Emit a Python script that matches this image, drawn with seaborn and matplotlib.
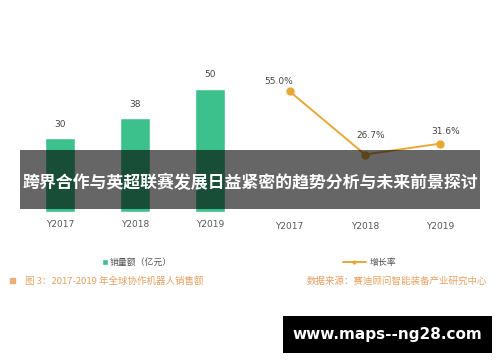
import pandas as pd
import seaborn as sns
import matplotlib.pyplot as plt
from matplotlib.patches import Rectangle

# Data
years = ["Y2017", "Y2018", "Y2019"]
sales = [30, 38, 50]
growth = [55.0, 26.7, 31.6]
growth_labels = ["55.0%", "26.7%", "31.6%"]

sales_name = "销量额（亿元）"
growth_name = "增长率"
title_text = "跨界合作与英超联赛发展日益紧密的趋势分析与未来前景探讨"
caption_left = "图 3：2017-2019 年全球协作机器人销售额"
caption_right = "数据来源：赛迪顾问智能装备产业研究中心"
watermark = "www.maps--ng28.com"

green = "#3cc08c"
orange = "#e8a838"
caption_color = "#e6a060"

sns.set_style("white")
plt.rcParams['font.family'] = ['Noto Sans CJK SC', 'DejaVu Sans']

df_sales = pd.DataFrame({"year": years, "value": sales})
df_growth = pd.DataFrame({"year": years, "value": growth})

fig = plt.figure(figsize=(5, 3.62), dpi=100)
fig.patch.set_facecolor("white")

# Left: bar chart of sales
ax1 = fig.add_axes([0.045, 0.4144, 0.45, 0.409])
sns.barplot(data=df_sales, x="year", y="value", color=green, width=0.4,
            saturation=1, ax=ax1, label=sales_name)
ax1.set_xlim(-0.5, 2.5)
ax1.set_ylim(0, 60)
for i, v in enumerate(sales):
    ax1.annotate(str(v), (i, v), xytext=(0, 10), textcoords="offset points",
                 ha="center", va="center", fontsize=6.5, color="#444444",
                 family="DejaVu Sans")

# Right: growth rate line
ax2 = fig.add_axes([0.504, 0.4088, 0.452, 0.431])
sns.lineplot(data=df_growth, x="year", y="value", color=orange, linewidth=1.4,
             marker="o", markersize=6, markeredgewidth=0, ax=ax2, label=growth_name)
ax2.set_xlim(-0.5, 2.5)
ax2.set_ylim(0, 70)
offsets = [(-8, 7), (4, 14), (4, 9)]
for i, (v, lab) in enumerate(zip(growth, growth_labels)):
    ax2.annotate(lab, (i, v), xytext=offsets[i], textcoords="offset points",
                 ha="center", va="center", fontsize=6.5, color="#444444",
                 family="DejaVu Sans")

for ax in (ax1, ax2):
    sns.despine(ax=ax, left=True, bottom=True)
    ax.set_yticks([])
    ax.set_xlabel("")
    ax.set_ylabel("")
    ax.tick_params(axis="x", length=0, pad=6, labelsize=6.5, labelcolor="#555555")
    for t in ax.get_xticklabels():
        t.set_family("DejaVu Sans")

# Legends below each panel
ax1.legend(loc="center", bbox_to_anchor=(0.51, -0.34), frameon=False, fontsize=6.4,
           handlelength=0.6, handleheight=0.6, handletextpad=0.3,
           labelcolor="#555555")
ax2.legend(loc="center", bbox_to_anchor=(0.52, -0.31), frameon=False, fontsize=6.4,
           handlelength=2.6, handletextpad=0.4, labelcolor="#555555",
           markerscale=0.5)

# Captions
fig.add_artist(Rectangle((0.02, 0.217), 0.01, 0.014, transform=fig.transFigure,
                         color=caption_color, alpha=0.8))
fig.text(0.05, 0.224, caption_left, fontsize=6.8, color=caption_color, va="center")
fig.text(0.974, 0.224, caption_right, fontsize=6.8, color=caption_color,
         va="center", ha="right")

# Grey overlay with title
fig.add_artist(Rectangle((0.04, 0.4227), 0.92, 0.163, transform=fig.transFigure,
                         facecolor="black", alpha=0.6, edgecolor="none", zorder=10))
fig.text(0.5, 0.4945, title_text, fontsize=12.2, fontweight="bold", color="white",
         ha="center", va="center", zorder=11)

# Watermark box
fig.add_artist(Rectangle((0.566, 0.025), 0.418, 0.102, transform=fig.transFigure,
                         facecolor="black", edgecolor="none", zorder=10))
fig.text(0.775, 0.077, watermark, fontsize=11, fontweight="bold", color="white",
         ha="center", va="center", family="DejaVu Sans", zorder=11)

plt.savefig("out.png", dpi=100)
